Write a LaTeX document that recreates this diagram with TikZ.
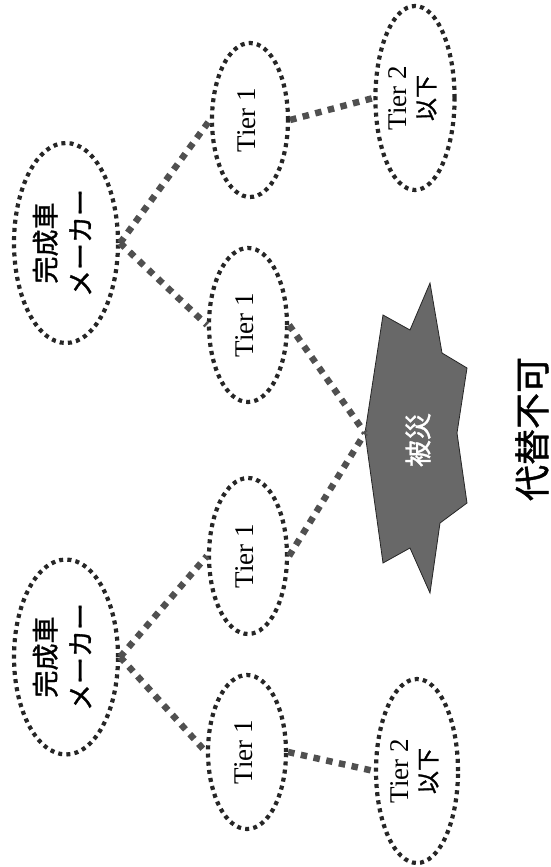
\documentclass[tikz,border=0pt]{standalone}
\usepackage{fontspec}
\setmainfont{Liberation Serif}
\newfontfamily\jp[FakeBold=1.2]{Noto Sans CJK JP}
\usetikzlibrary{shapes.geometric}
\definecolor{ellc}{HTML}{262626}
\definecolor{linkc}{HTML}{505050}
\definecolor{starc}{HTML}{686868}
\newcommand\rtext[3]{\rotatebox{90}{\fontsize{#1}{#2}\selectfont\begin{tabular}{@{}c@{}}#3\end{tabular}}}
\begin{document}
\begin{tikzpicture}[x=1pt,y=-1pt,
  dotell/.style={ellipse, draw=ellc, line width=4.2pt, dash pattern=on 4pt off 4.2pt, inner sep=0pt},
  link/.style={draw=linkc, line width=6.5pt, dash pattern=on 6.5pt off 6.5pt},
  lbl/.style={inner sep=0pt}]
\fill[white] (0,0) rectangle (550,867);
\useasboundingbox (0,0) rectangle (550,867);
% nodes
\node[dotell, minimum width=104pt, minimum height=200pt] (m1) at (66,243) {\rtext{27}{35}{\jp 完成車\\\jp メーカー}};
\node[dotell, minimum width=104pt, minimum height=195pt] (m2) at (66,657) {\rtext{27}{35}{\jp 完成車\\\jp メーカー}};
\node[dotell, minimum width=76pt, minimum height=154pt] (t1a) at (250,120) {\rtext{27}{28}{Tier 1}};
\node[dotell, minimum width=78pt, minimum height=154pt] (t1b) at (248,325) {\rtext{27}{28}{Tier 1}};
\node[dotell, minimum width=78pt, minimum height=156pt] (t1c) at (248,556) {\rtext{27}{28}{Tier 1}};
\node[dotell, minimum width=78pt, minimum height=154pt] (t1d) at (247,752) {\rtext{27}{28}{Tier 1}};
\node[dotell, minimum width=76pt, minimum height=184pt] (t2a) at (415,98) {\rtext{27}{28}{Tier 2\\{\jp\fontsize{23}{28}\selectfont 以下}}};
\node[dotell, minimum width=82pt, minimum height=184pt] (t2b) at (417,771) {\rtext{27}{28}{Tier 2\\{\jp\fontsize{23}{28}\selectfont 以下}}};
% disaster star
\filldraw[fill=starc, draw=black!85, line width=0.8pt]
  (430,283) -- (442,353) -- (467,368) -- (457,433) -- (467,503) -- (440,523)
  -- (430,593) -- (410,548) -- (383,563) -- (365,433) -- (383,315) -- (410,330) -- cycle;
\coordinate (hit) at (365,433);
\node[lbl, text=white] (hisai) at (418,440) {\rotatebox{90}{\jp\fontsize{27}{27}\selectfont 被災}};
\node[lbl] (daitai) at (532,429) {\rotatebox{90}{\jp\fontsize{36}{36}\selectfont 代替不可}};
% connectors
\draw[link] (m1.east) -- (t1a.west);
\draw[link] (m1.east) -- (t1b.west);
\draw[link] (t1a.east) -- (t2a.west);
\draw[link] (t1b.east) -- (hit);
\draw[link] (t1c.east) -- (hit);
\draw[link] (m2.east) -- (t1c.west);
\draw[link] (m2.east) -- (t1d.west);
\draw[link] (t1d.east) -- (t2b.west);
\end{tikzpicture}
\end{document}
